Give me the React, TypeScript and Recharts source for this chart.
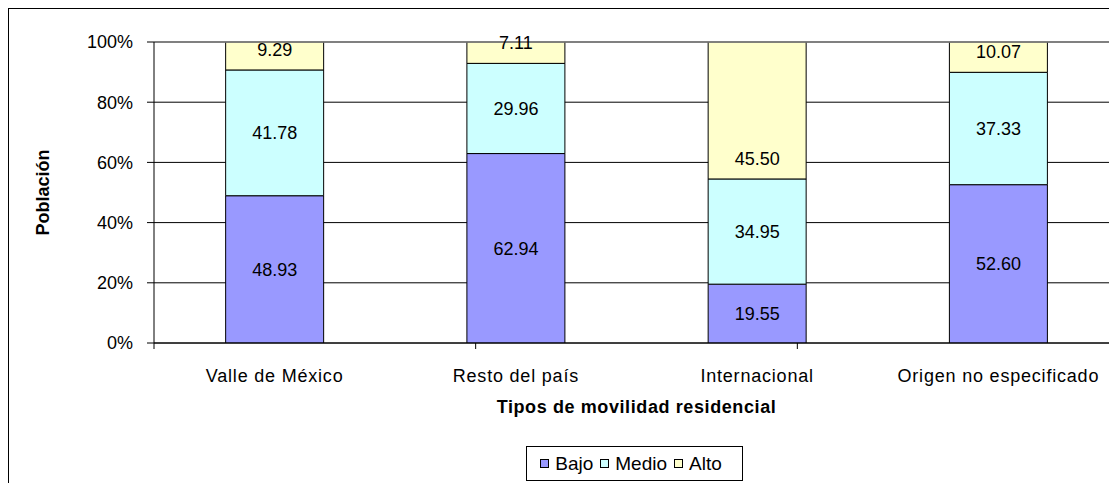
import { BarChart, Bar, XAxis, YAxis, CartesianGrid, LabelList, ReferenceLine } from 'recharts';

const categories = ['Valle de México', 'Resto del país', 'Internacional', 'Origen no especificado'];
const bajo = [48.93, 62.94, 19.55, 52.6];
const medio = [41.78, 29.96, 34.95, 37.33];
const alto = [9.29, 7.11, 45.5, 10.07];
const yTicks = [0, 20, 40, 60, 80, 100];
const edgeTicks = [0, 1, 2, 3, 4];

const series = [
    { key: 'bajo', name: 'Bajo', color: '#9999FF' },
    { key: 'medio', name: 'Medio', color: '#CCFFFF' },
    { key: 'alto', name: 'Alto', color: '#FFFFCC' },
];

const data = categories.map((name, i) => ({
    name,
    bajo: bajo[i],
    medio: medio[i],
    alto: alto[i],
}));

const font = '"Liberation Sans", Arial, sans-serif';
const fmt = (v: any) => Number(v).toFixed(2);

function YTitle(props: any) {
    const vb = props.viewBox;
    const cx = vb.x + 34;
    const cy = vb.y + vb.height / 2;
    return (
        <text x={cx} y={cy} transform={`rotate(-90 ${cx} ${cy})`} textAnchor="middle"
            dominantBaseline="central" fontSize={18} fontWeight="bold" fontFamily={font} fill="#000">
            Población
        </text>
    );
}

function XTitle(props: any) {
    const vb = props.viewBox;
    return (
        <text x={vb.x + vb.width / 2} y={vb.y + 62} textAnchor="middle" fontSize={18}
            fontWeight="bold" fontFamily={font} fill="#000" letterSpacing={0.6}>
            Tipos de movilidad residencial
        </text>
    );
}

export default function App() {
    return (
        <div style={{ width: 1109, height: 475, overflow: 'hidden', fontFamily: font }}>
            <div style={{ position: 'relative', width: 1140, height: 490, border: '1px solid #000', background: '#fff' }}>
                <BarChart
                    width={1125}
                    height={475}
                    data={data}
                    margin={{ top: 33, right: 15, left: 0, bottom: 53 }}
                    barCategoryGap="29.7%"
                >
                    <CartesianGrid vertical={false} stroke="#000" />
                    {/* category boundary ticks, as in the original */}
                    <XAxis
                        xAxisId={0}
                        type="number"
                        domain={[0, 4]}
                        ticks={edgeTicks}
                        allowDataOverflow
                        tickFormatter={() => ''}
                        tickSize={6}
                        height={8}
                        axisLine={{ stroke: '#000' }}
                        tickLine={{ stroke: '#000' }}
                    />
                    <XAxis
                        xAxisId="cat"
                        dataKey="name"
                        interval={0}
                        height={80}
                        axisLine={false}
                        tickLine={false}
                        tickSize={6}
                        tickMargin={12}
                        tick={{ fontSize: 18, fill: '#000', fontFamily: font, letterSpacing: 0.8 }}
                        label={{ value: 'Tipos de movilidad residencial', content: XTitle }}
                    />
                    <YAxis
                        width={145}
                        domain={[0, 100]}
                        ticks={yTicks}
                        allowDataOverflow
                        tickFormatter={(v) => `${v}%`}
                        tickSize={7}
                        tickMargin={14}
                        axisLine={{ stroke: '#000' }}
                        tickLine={{ stroke: '#000' }}
                        tick={{ fontSize: 18, fill: '#000', fontFamily: font }}
                        label={{ value: 'Población', content: YTitle }}
                    />
                    {series.map((s) => (
                        <Bar
                            key={s.key}
                            xAxisId="cat"
                            dataKey={s.key}
                            name={s.name}
                            stackId="a"
                            fill={s.color}
                            stroke="#000"
                            strokeWidth={1}
                            isAnimationActive={false}
                        >
                            <LabelList
                                dataKey={s.key}
                                position={s.key === 'alto' ? 'insideBottom' : 'center'}
                                offset={14}
                                formatter={fmt}
                                fontSize={18}
                                fill="#000"
                                fontFamily={font}
                            />
                        </Bar>
                    ))}
                    <ReferenceLine y={100} stroke="#808080" strokeWidth={1.5} />
                </BarChart>
                <div
                    style={{
                        position: 'absolute',
                        left: 517,
                        top: 437,
                        width: 215,
                        height: 33,
                        border: '1px solid #000',
                        display: 'flex',
                        alignItems: 'center',
                        justifyContent: 'center',
                        fontSize: 19,
                        color: '#000',
                    }}
                >
                    {series.map((s) => (
                        <span key={s.key} style={{ display: 'flex', alignItems: 'center', marginRight: 7 }}>
                            <span style={{ width: 7, height: 7, border: '1px solid #000', background: s.color, marginRight: 6 }} />
                            {s.name}
                        </span>
                    ))}
                </div>
            </div>
        </div>
    );
}
